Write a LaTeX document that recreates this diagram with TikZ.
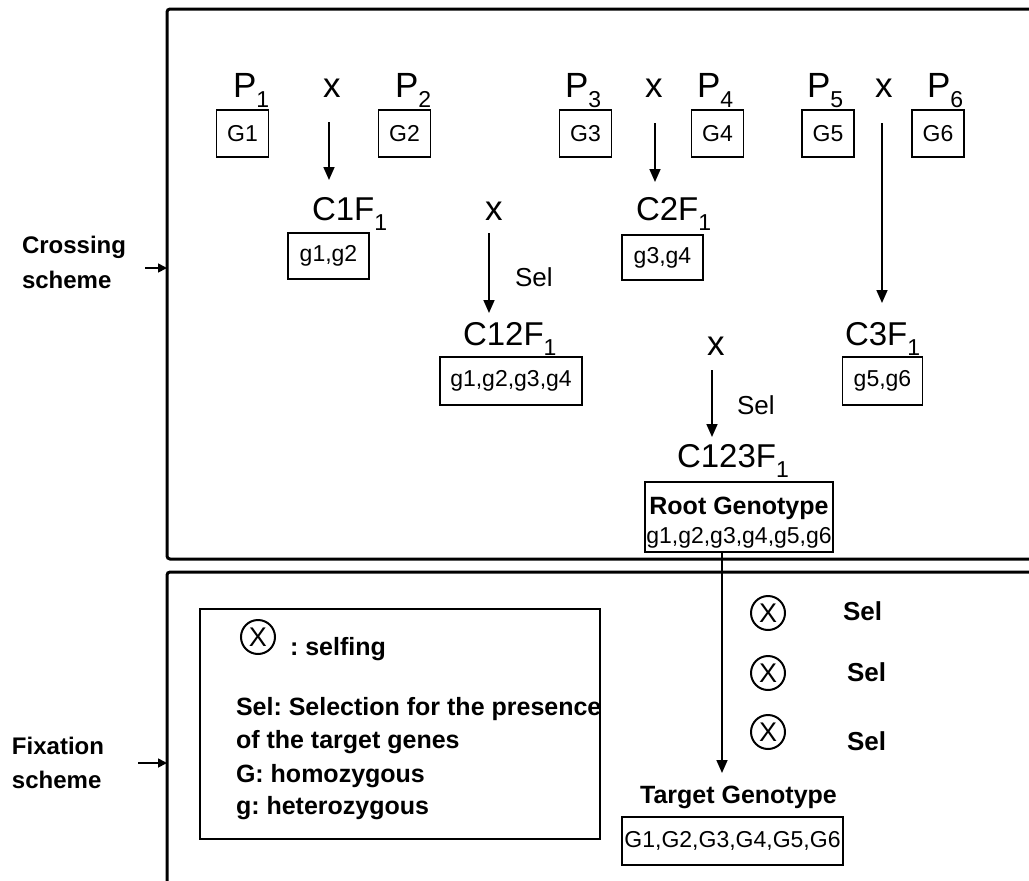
\documentclass[tikz,border=0pt]{standalone}
\usepackage{fontspec}
\setmainfont{Liberation Sans}
\usetikzlibrary{arrows.meta}
\newcommand\fsz[1]{\fontsize{#1}{#1}\selectfont}
\newcommand\sbs[1]{\raisebox{-10pt}{\fsz{23}#1}}
\frenchspacing
\begin{document}
\begin{tikzpicture}[x=1pt,y=-1pt,
  txt/.style={anchor=base west, inner sep=0pt, outer sep=0pt},
  big/.style={txt, font=\fsz{35}},
  cl/.style={txt, font=\fsz{33}},
  gbox/.style={draw, line width=1.8pt, inner sep=0pt, minimum width=52pt, minimum height=47pt, font=\fsz{23}},
  arr/.style={line width=1.7pt, -{Triangle[length=13pt,width=11pt]}},
  sarr/.style={line width=1.7pt, -{Triangle[length=9pt,width=9pt]}},
  frame/.style={line width=3pt, rounded corners=3pt},
  sel/.style={txt, font=\fsz{26}},
  selb/.style={txt, font=\bfseries\fsz{26}},
  side/.style={txt, font=\bfseries\fsz{24}},
  leg/.style={txt, font=\bfseries\fsz{25}},
  selfc/.style={circle, draw, line width=2pt, minimum size=34pt, inner sep=0pt, font=\fsz{27}},
]
\useasboundingbox (0,0) rectangle (1029,881);
\begin{scope}
\clip (0,0) rectangle (1029,881);
\draw[frame] (1040,9) -- (167,9) -- (167,559) -- (1040,559);
\draw[frame] (1040,572) -- (167,572) -- (167,895);
\end{scope}

% side labels
\node[side] (cr1) at (22,253) {Crossing};
\node[side] (cr2) at (22,288) {scheme};
\node[side] (fx1) at (12,754) {Fixation};
\node[side] (fx2) at (12,788) {scheme};
\coordinate (ca1) at (145,268); \coordinate (ca2) at (167,268);
\coordinate (fa1) at (138,763); \coordinate (fa2) at (167,763);
\draw[sarr] (ca1) -- (ca2);
\draw[sarr] (fa1) -- (fa2);

% parents
\node[big] (p1) at (233,97) {P\sbs{1}};
\node[big] (x1) at (323,97) {x};
\node[big] (p2) at (395,97) {P\sbs{2}};
\node[big] (p3) at (565,97) {P\sbs{3}};
\node[big] (x2) at (645,97) {x};
\node[big] (p4) at (697,97) {P\sbs{4}};
\node[big] (p5) at (807,97) {P\sbs{5}};
\node[big] (x3) at (875,97) {x};
\node[big] (p6) at (927,97) {P\sbs{6}};

\node[gbox] (g1) at (242.5,133.5) {G1};
\node[gbox] (g2) at (404.5,133.5) {G2};
\node[gbox] (g3) at (585.5,133.5) {G3};
\node[gbox] (g4) at (717.5,133.5) {G4};
\node[gbox] (g5) at (828,133.5) {G5};
\node[gbox] (g6) at (938,133.5) {G6};

% arrows from crosses
\coordinate (a1s) at (329,122); \coordinate (a1e) at (329,180);
\coordinate (a2s) at (655,123); \coordinate (a2e) at (655,182);
\coordinate (a3s) at (882,123); \coordinate (a3e) at (882,303);
\draw[arr] (a1s) -- (a1e);
\draw[arr] (a2s) -- (a2e);
\draw[arr] (a3s) -- (a3e);

% F1s
\node[cl] (c1) at (312,220) {C1F\sbs{1}};
\node[gbox, minimum width=81pt, minimum height=46pt] (c1b) at (328.5,256) {g1,g2};
\node[cl] (c2) at (636,220) {C2F\sbs{1}};
\node[gbox, minimum width=81pt, minimum height=45pt] (c2b) at (662.5,257.5) {g3,g4};
\node[cl] (c3) at (845,345) {C3F\sbs{1}};
\node[gbox, minimum width=80pt, minimum height=48pt] (c3b) at (882.5,381) {g5,g6};

% C12
\node[big] (x4) at (485,220) {x};
\coordinate (a4s) at (489,233); \coordinate (a4e) at (489,313);
\draw[arr] (a4s) -- (a4e);
\node[sel] (s1) at (515,286) {Sel};
\node[cl] (c12) at (463,345) {C12F\sbs{1}};
\node[gbox, minimum width=142pt, minimum height=48pt] (c12b) at (511,381) {g1,g2,g3,g4};

% C123
\node[big] (x5) at (707,355) {x};
\coordinate (a5s) at (712,370); \coordinate (a5e) at (712,437);
\draw[arr] (a5s) -- (a5e);
\node[sel] (s2) at (737,414) {Sel};
\node[cl] (c123) at (677,467) {C123F\sbs{1}};
\node[draw, line width=1.8pt, minimum width=188pt, minimum height=70pt, inner sep=0pt] (root) at (739,517) {};
\node[anchor=base, inner sep=0pt, font=\bfseries\fsz{25}] (rt) at (739,514) {Root Genotype};
\node[anchor=base, inner sep=0pt, font=\fsz{23}] (rg) at (739,543) {g1,g2,g3,g4,g5,g6};

% fixation
\coordinate (a6e) at (722,773);
\draw[arr] (a6e |- root.south) -- (a6e);
\node[selfc] (o1) at (768,613) {X};
\node[selfc] (o2) at (768,673) {X};
\node[selfc] (o3) at (768,732) {X};
\node[selb] (sb1) at (843,620) {Sel};
\node[selb] (sb2) at (847,681) {Sel};
\node[selb] (sb3) at (847,750) {Sel};
\node[anchor=base, inner sep=0pt, font=\bfseries\fsz{25}] (tg) at (738.5,803) {Target Genotype};
\node[gbox, minimum width=221pt, minimum height=48pt] (tgb) at (732.5,841) {G1,G2,G3,G4,G5,G6};

% legend
\node[draw, line width=1.8pt, minimum width=400pt, minimum height=230pt, inner sep=0pt] (leg) at (400,724) {};
\node[selfc] (lo) at (258,637) {X};
\node[leg] (l0) at (290,655) {: selfing};
\node[leg] (l1) at (236,715) {Sel: Selection for the presence};
\node[leg] (l2) at (236,748) {of the target genes};
\node[leg] (l3) at (236,782) {G: homozygous};
\node[leg] (l4) at (236,814) {g: heterozygous};
\end{tikzpicture}
\end{document}
